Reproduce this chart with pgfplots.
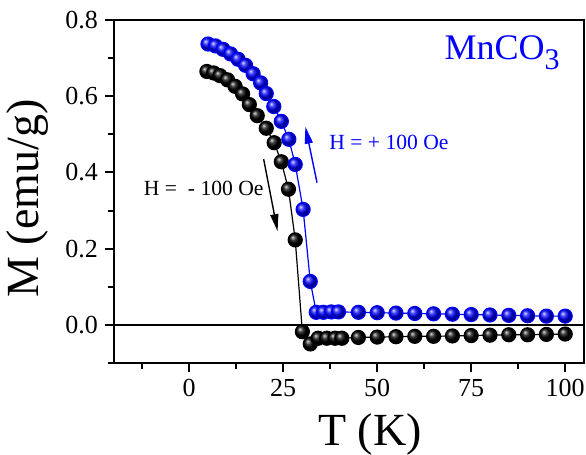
\documentclass[border=0pt]{standalone}
\usepackage{fontspec}
\setmainfont{Liberation Serif}
\usepackage{pgfplots}
\usepackage{pgfplotstable}
\pgfplotsset{compat=1.18}
\usetikzlibrary{arrows.meta}

\definecolor{upBlue}{HTML}{0000FF}

% H = +100 Oe
\pgfplotstableread{
T M
5 0.737
7 0.732
9 0.723
11 0.711
13 0.697
15 0.681
17 0.659
19 0.635
20.5 0.607
22.5 0.573
24.5 0.534
26.5 0.487
28.2 0.421
30.3 0.303
32.2 0.114
33.8 0.033
35.7 0.033
37.8 0.034
39.7 0.034
45 0.033
50 0.032
55 0.031
60 0.030
65 0.029
70 0.028
75 0.027
80 0.026
85 0.025
90 0.024
95 0.023
100 0.023
}\plusH

% H = -100 Oe
\pgfplotstableread{
T M
4.7 0.665
6.5 0.661
8.2 0.654
10.2 0.643
12.2 0.626
14.2 0.606
16.0 0.578
18.1 0.549
20.5 0.516
22.6 0.478
24.5 0.428
26.4 0.356
28.2 0.223
30.1 -0.018
32.2 -0.050
34.3 -0.035
36.6 -0.035
38.8 -0.035
40.6 -0.035
45 -0.033
50 -0.032
55 -0.031
60 -0.030
65 -0.030
70 -0.029
75 -0.028
80 -0.027
85 -0.026
90 -0.026
95 -0.025
100 -0.024
}\minusH

\begin{document}
\begin{tikzpicture}
\begin{axis}[
    scale only axis,
    width=235pt, height=171.5pt,
    xmin=-20, xmax=105, ymin=-0.1, ymax=0.8,
    xtick={0,25,50,75,100},
    minor xtick={-12.5,12.5,37.5,62.5,87.5},
    ytick={0,0.2,0.4,0.6,0.8},
    minor ytick={-0.1,0.1,0.3,0.5,0.7},
    xtick pos=bottom, ytick pos=left,
    tick align=outside,
    major tick length=4.5pt, minor tick length=3pt,
    every tick/.append style={black, line width=1pt},
    axis line style={line width=1.1pt},
    /pgf/number format/assume math mode=true,
    yticklabel style={/pgf/number format/fixed, /pgf/number format/fixed zerofill, /pgf/number format/precision=1},
    tick label style={font=\fontsize{13}{15}\selectfont},
    xlabel={T (K)},
    ylabel={M (emu/g)},
    xlabel style={font=\fontsize{23}{26}\selectfont, at={(axis description cs:0.545,-0.207)}, anchor=center},
    ylabel style={font=\fontsize{23}{26}\selectfont, at={(axis description cs:-0.183,0.48)}, anchor=center},
]
    \coordinate (bl) at (rel axis cs:0,0);
    \coordinate (tr) at (rel axis cs:1,1);
    \draw[line width=1.1pt] (axis cs:-20,0) -- (axis cs:105,0);

    \addplot[black, line width=0.6pt, mark=ball, mark size=3.5pt, mark options={ball color=black}] table {\minusH};
    \addplot[upBlue, line width=0.6pt, mark=ball, mark size=3.5pt, mark options={ball color=upBlue}] table {\plusH};

    \draw[black, line width=0.7pt, -{Triangle[length=8.5pt,width=4pt]}] (axis cs:19.8,0.435) -- (axis cs:23.5,0.246);
    \draw[upBlue, line width=0.7pt, -{Triangle[length=8.5pt,width=4pt]}] (axis cs:34.0,0.373) -- (axis cs:30.9,0.520);

    \node[anchor=base west, font=\fontsize{10.8}{12}\selectfont] at (axis cs:-13.9,0.34) {H =\ \ - 100 Oe};
    \node[anchor=base west, text=upBlue, font=\fontsize{10.8}{12}\selectfont] at (axis cs:35.4,0.46) {H = + 100 Oe};
    \node[anchor=base east, text=upBlue, font=\fontsize{18}{20}\selectfont, inner sep=0pt] at (axis description cs:0.949,0.886) {MnCO\raisebox{-5pt}{\fontsize{15}{15}\selectfont 3}};
\end{axis}
\pgfresetboundingbox
\path ([shift={(-57pt,-46pt)}]bl) rectangle ([shift={(1pt,10pt)}]tr);
\end{tikzpicture}
\end{document}
